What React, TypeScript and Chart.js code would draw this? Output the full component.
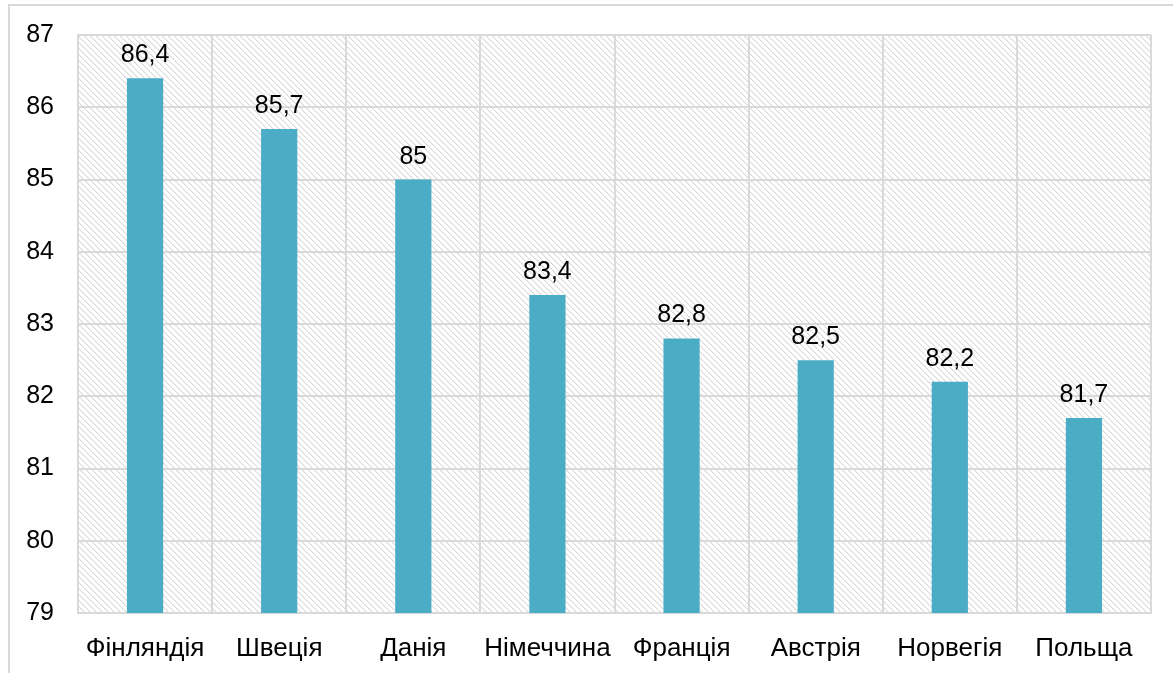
import React, { useEffect, useRef } from "react";
import { Chart, registerables } from "chart.js";

Chart.register(...registerables);

const categories = ["Фінляндія", "Швеція", "Данія", "Німеччина", "Франція", "Австрія", "Норвегія", "Польща"];
const values = [86.4, 85.7, 85, 83.4, 82.8, 82.5, 82.2, 81.7];
const yTicks = [79, 80, 81, 82, 83, 84, 85, 86, 87];

const FONT = "'Liberation Sans', Arial, sans-serif";

function makePattern(ctx: CanvasRenderingContext2D) {
  const n = 6;
  const c = document.createElement("canvas");
  c.width = n;
  c.height = n;
  const g = c.getContext("2d")!;
  g.fillStyle = "#ffffff";
  g.fillRect(0, 0, n, n);
  for (let i = 0; i < n; i++) {
    g.fillStyle = "#d9d9d9";
    g.fillRect(i, i, 1, 1);
    g.fillStyle = "#efefef";
    g.fillRect((i + 1) % n, i, 1, 1);
  }
  return ctx.createPattern(c, "repeat");
}

export default function App() {
  const ref = useRef<HTMLCanvasElement>(null);
  useEffect(() => {
    const canvas = ref.current!;
    const hatch = {
      id: "hatch",
      beforeDraw(chart: any) {
        const { ctx, chartArea } = chart;
        const p = makePattern(ctx);
        ctx.save();
        if (p) ctx.fillStyle = p;
        ctx.fillRect(chartArea.left, chartArea.top, chartArea.right - chartArea.left, chartArea.bottom - chartArea.top);
        ctx.restore();
      },
    };
    const labels = {
      id: "labels",
      afterDatasetsDraw(chart: any) {
        const { ctx } = chart;
        const meta = chart.getDatasetMeta(0);
        ctx.save();
        ctx.font = `25px ${FONT}`;
        ctx.fillStyle = "#000";
        ctx.textAlign = "center";
        ctx.textBaseline = "alphabetic";
        meta.data.forEach((bar: any, i: number) => {
          ctx.fillText(String(values[i]).replace(".", ","), bar.x, bar.y - 16);
        });
        ctx.restore();
      },
    };
    const chart = new Chart(canvas, {
      type: "bar",
      data: {
        labels: categories,
        datasets: [
          {
            data: values,
            backgroundColor: "#4bacc6",
            barPercentage: 0.27,
            categoryPercentage: 1,
          },
        ],
      },
      options: {
        animation: false,
        responsive: false,
        devicePixelRatio: 1,
        layout: { padding: { top: 35, right: 22, left: 0, bottom: 0 } },
        plugins: { legend: { display: false }, tooltip: { enabled: false } },
        scales: {
          x: {
            grid: { color: "#d9d9d9", lineWidth: 2, drawTicks: false, offset: true },
            border: { color: "#d9d9d9", width: 2 },
            ticks: { color: "#000", font: { family: FONT, size: 26 }, padding: 20, maxRotation: 0, autoSkip: false },
            afterFit(s: any) {
              s.height = 60;
            },
          },
          y: {
            min: 79,
            max: 87,
            afterBuildTicks(s: any) {
              s.ticks = yTicks.map((v) => ({ value: v }));
            },
            grid: { color: "#d9d9d9", lineWidth: 2, drawTicks: false },
            border: { color: "#d9d9d9", width: 2 },
            ticks: { color: "#000", font: { family: FONT, size: 25 }, padding: 24 },
            afterFit(s: any) {
              s.width = 78;
              s.paddingTop = 0;
              s.paddingBottom = 0;
            },
          },
        },
      },
      plugins: [hatch, labels],
    });
    return () => chart.destroy();
  }, []);
  return (
    <div style={{ position: "absolute", left: 0, top: 0, width: 1173, height: 673, overflow: "hidden", background: "#fff" }}>
      <div
        style={{
          position: "absolute",
          left: 8,
          top: 4,
          width: 1200,
          height: 700,
          border: "2px solid #d9d9d9",
        }}
      />
      <canvas ref={ref} width={1173} height={673} style={{ position: "absolute", left: 0, top: 0, width: 1173, height: 673 }} />
    </div>
  );
}
